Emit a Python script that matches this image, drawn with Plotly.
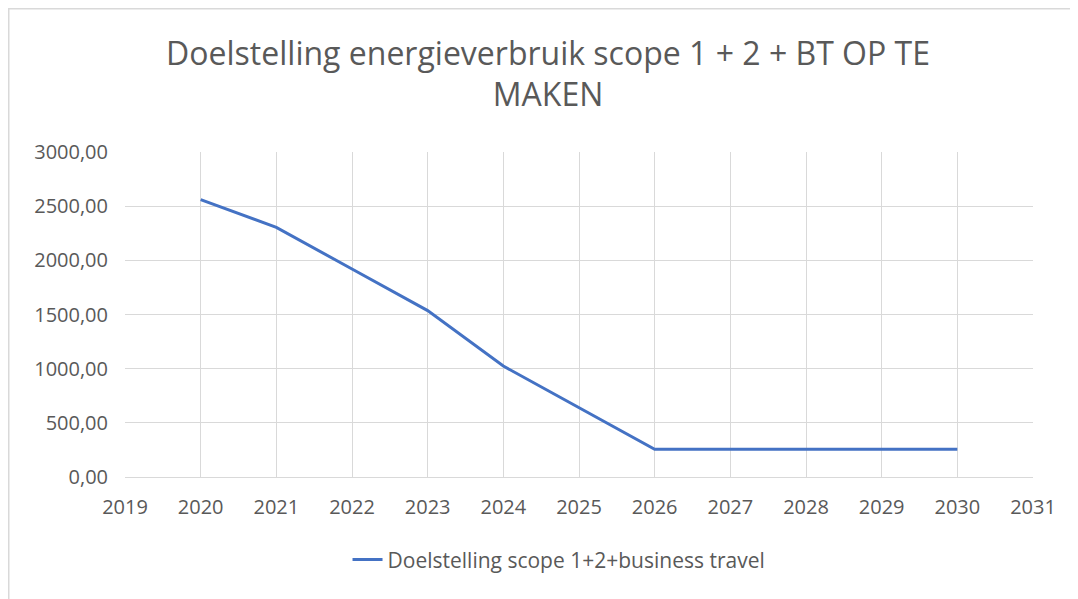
import plotly.graph_objects as go

years = [2020, 2021, 2022, 2023, 2024, 2025, 2026, 2027, 2028, 2029, 2030]
values = [2560, 2304, 1920, 1536, 1024, 640, 256, 256, 256, 256, 256]
series_name = "Doelstelling scope 1+2+business travel"
title_text = "Doelstelling energieverbruik scope 1 + 2 + BT OP TE<br>MAKEN"
y_ticks = [0, 500, 1000, 1500, 2000, 2500, 3000]
y_tick_labels = ["0,00", "500,00", "1000,00", "1500,00", "2000,00", "2500,00", "3000,00"]
x_ticks = list(range(2019, 2032))

font_family = "Open Sans, Noto Sans, Liberation Sans, sans-serif"
text_color = "#595959"
grid_color = "#d9d9d9"

fig = go.Figure()
fig.add_trace(go.Scatter(
    x=years, y=values, mode="lines", name=series_name,
    line=dict(color="#4472c4", width=3),
))

fig.update_layout(
    width=1070, height=591,
    autosize=False,
    paper_bgcolor="white", plot_bgcolor="white",
    margin=dict(l=117, r=45, t=144, b=122, autoexpand=False),
    font=dict(family=font_family, color=text_color, size=20),
    title=dict(text=title_text, x=0.5047, xanchor="center", xref="container",
               y=0.904, yanchor="middle", automargin=False,
               font=dict(size=32, color=text_color, family=font_family)),
    showlegend=True,
    legend=dict(orientation="h", x=0.478, xref="paper", xanchor="center",
                y=-0.255, yref="paper", yanchor="middle",
                font=dict(size=21, color=text_color)),
    xaxis=dict(range=[2019, 2031], tickvals=x_ticks, ticktext=[str(t) for t in x_ticks],
               showgrid=True, gridcolor=grid_color, gridwidth=1,
               showline=True, linecolor=grid_color, linewidth=1,
               zeroline=False, ticks="", ticklen=0, tickangle=0, automargin=False,
               ticklabelstandoff=12,
               tickfont=dict(size=20, color=text_color)),
    yaxis=dict(range=[0, 3000], tickvals=y_ticks, ticktext=y_tick_labels,
               showgrid=True, gridcolor=grid_color, gridwidth=1,
               zeroline=False, showline=False, ticks="", automargin=False,
               ticklabelstandoff=16,
               tickfont=dict(size=20, color=text_color)),
    shapes=[dict(type="rect", xref="paper", yref="paper",
                 x0=-0.1283, x1=1.2, y0=-0.6, y1=1.4415,
                 line=dict(color="#d9d9d9", width=2), fillcolor="rgba(0,0,0,0)",
                 layer="below")],
)

fig.write_html("out.html")
